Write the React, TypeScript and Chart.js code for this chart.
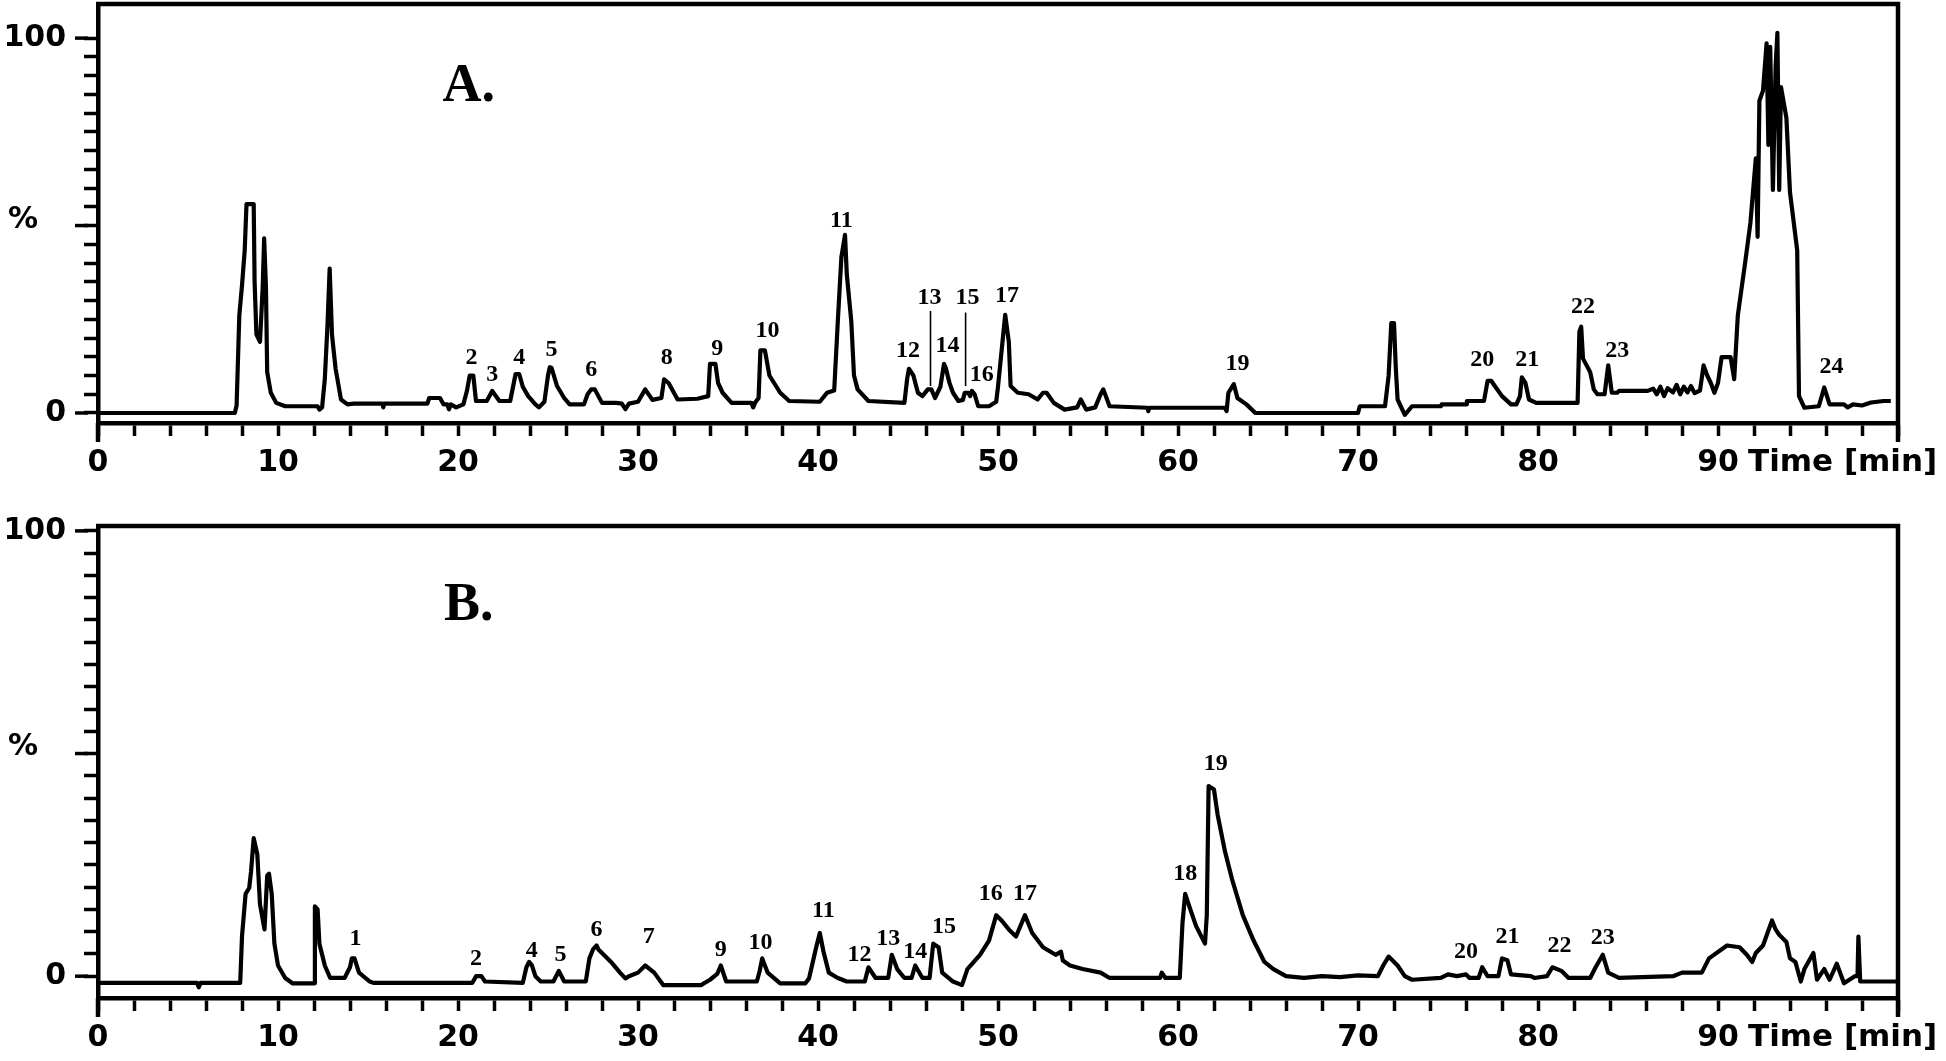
import React, { useEffect, useRef } from 'react';
import { Chart, registerables } from 'chart.js';

Chart.register(...registerables);

// ---- data: [time (min), signal (%)] ----
const traceA: [number, number][] = [
  [0, 0], [7.6, 0], [7.7, 2], [7.85, 26], [8.0, 34], [8.15, 43.4], [8.25, 55.7], [8.65, 55.7], [8.7, 35], [8.8, 21],
  [9.0, 19], [9.15, 33.5], [9.23, 46.6], [9.33, 33.5], [9.4, 10.9], [9.6, 5.4], [9.9, 2.7], [10.4, 1.8], [12.2, 1.8],
  [12.3, 0.9], [12.45, 1.5], [12.6, 9], [12.75, 23.5], [12.87, 38.5], [13.0, 20.8], [13.2, 11.8], [13.5, 3.6],
  [13.86, 2.3], [14.2, 2.5], [15.8, 2.5], [15.85, 1.5], [15.9, 2.5], [18.3, 2.5], [18.4, 4], [19.0, 4], [19.2, 2.3],
  [19.4, 2.3], [19.5, 1], [19.6, 2.3], [19.9, 1.5], [20.3, 2.3], [20.5, 6], [20.65, 10], [20.85, 10], [21.0, 3.2],
  [21.6, 3.2], [21.9, 5.9], [22.3, 3.2], [22.9, 3.2], [23.1, 8], [23.2, 10.4], [23.4, 10.4], [23.6, 7], [23.9, 4.5],
  [24.3, 2.3], [24.5, 1.5], [24.8, 3], [25.0, 10], [25.1, 12.2], [25.2, 12], [25.5, 7.2], [25.9, 4], [26.2, 2.3],
  [27.0, 2.3], [27.2, 5], [27.4, 6.3], [27.6, 6.3], [28.0, 2.7], [28.8, 2.7], [29.1, 2.5], [29.3, 1], [29.5, 2.5],
  [30.0, 3], [30.4, 6.3], [30.8, 3.5], [31.3, 4], [31.45, 9], [31.7, 8], [32.2, 3.6], [33.3, 3.8], [33.9, 4.5],
  [34.0, 13.1], [34.3, 13.1], [34.45, 8], [34.7, 5.4], [35.2, 2.7], [36.3, 2.7], [36.4, 1.5], [36.5, 2.7], [36.7, 4],
  [36.8, 16.7], [37.05, 16.7], [37.3, 10], [37.9, 5.4], [38.4, 3.2], [40.1, 3], [40.5, 5.4], [40.9, 6], [41.1, 24.4],
  [41.3, 41.6], [41.5, 47.5], [41.6, 37], [41.85, 24.4], [42.0, 10], [42.2, 6.3], [42.8, 3.2], [44.8, 2.7], [44.95, 9],
  [45.05, 11.8], [45.3, 10], [45.55, 5.4], [45.8, 4.5], [46.1, 6.3], [46.3, 6.3], [46.5, 4], [46.8, 7], [47.0, 13.1],
  [47.1, 12], [47.3, 8.1], [47.5, 5.4], [47.8, 3.2], [48.05, 3.5], [48.15, 5.4], [48.35, 5.4], [48.45, 4.5],
  [48.55, 5.9], [48.7, 5], [48.9, 1.8], [49.5, 1.8], [49.9, 3], [50.0, 7], [50.25, 19], [50.4, 26.2], [50.6, 19],
  [50.7, 7.2], [51.1, 5.4], [51.7, 5], [52.2, 3.6], [52.5, 5.4], [52.7, 5.4], [53.1, 2.7], [53.7, 0.9], [54.4, 1.5],
  [54.6, 3.6], [54.9, 0.9], [55.4, 1.5], [55.7, 5], [55.85, 6.3], [56.2, 1.8], [58.3, 1.4], [58.35, 0.5], [58.4, 1.4],
  [62.6, 1.4], [62.7, 0.5], [62.8, 5.4], [63.1, 7.7], [63.3, 4], [63.8, 2.3], [64.3, 0], [70.0, 0], [70.1, 1.8],
  [71.5, 1.8], [71.7, 9.9], [71.85, 24], [72.0, 24], [72.1, 12], [72.2, 3.6], [72.6, -0.5], [73.0, 1.8], [74.6, 1.8],
  [74.65, 2.3], [76.0, 2.3], [76.05, 3.2], [77.0, 3.2], [77.2, 8.6], [77.4, 8.6], [77.6, 7.2], [78.0, 4.5], [78.5, 2.3],
  [78.8, 2.3], [79.0, 4.5], [79.1, 9.5], [79.3, 8], [79.5, 3.6], [79.9, 2.7], [82.2, 2.7], [82.3, 21.7], [82.4, 23],
  [82.5, 14.5], [82.9, 10.9], [83.1, 6.3], [83.3, 5], [83.7, 5], [83.9, 12.7], [84.1, 5.4], [84.4, 5.4], [84.5, 5.9],
  [86.1, 5.9], [86.4, 6.5], [86.6, 5], [86.8, 7], [87.0, 4.5], [87.2, 6.6], [87.5, 5.5], [87.7, 7.5], [87.9, 5],
  [88.1, 7], [88.3, 5.5], [88.5, 7.2], [88.7, 5.3], [89.0, 6], [89.2, 12.7], [89.4, 10], [89.6, 8], [89.8, 5.4],
  [90.0, 8], [90.2, 14.9], [90.7, 14.9], [90.9, 9], [91.1, 26], [91.5, 39.8], [91.8, 50.7], [92.1, 67.9], [92.2, 47],
  [92.3, 83.3], [92.5, 86], [92.7, 98.6], [92.8, 71.5], [92.9, 97.7], [93.05, 59.5], [93.2, 92.3], [93.3, 101.4],
  [93.4, 59.5], [93.5, 86.9], [93.8, 78.7], [94.0, 58.8], [94.4, 43.4], [94.5, 4.5], [94.8, 1.4], [95.6, 1.8],
  [95.9, 6.8], [96.2, 2.3], [97.0, 2.3], [97.2, 1.5], [97.5, 2.3], [98.0, 2], [98.5, 2.8], [99.2, 3.2], [99.6, 3.2],
];

const traceB: [number, number][] = [
  [0, -1.5], [5.5, -1.5], [5.6, -2.5], [5.7, -1.5], [7.9, -1.5], [8.0, 8.9], [8.2, 18.5], [8.4, 19.8], [8.5, 23.4],
  [8.65, 31], [8.85, 27.4], [9.0, 16.1], [9.25, 10.5], [9.4, 22.6], [9.5, 23], [9.65, 18.5], [9.8, 7.3], [10.0, 2.4],
  [10.4, -0.4], [10.8, -1.6], [12.0, -1.6], [12.05, 15.7], [12.2, 15], [12.3, 7.3], [12.6, 2.4], [12.9, -0.4],
  [13.7, -0.4], [14.0, 2], [14.1, 4], [14.25, 4], [14.5, 0.8], [15.1, -1.2], [15.3, -1.5], [20.8, -1.5], [21.0, 0],
  [21.3, 0], [21.5, -1.2], [23.6, -1.5], [23.8, 2], [23.95, 3.2], [24.1, 2.5], [24.3, 0], [24.6, -1.2], [25.3, -1.2],
  [25.6, 1.2], [25.9, -1.2], [27.1, -1.2], [27.3, 4], [27.5, 6], [27.7, 6.9], [27.8, 6], [28.0, 5.2], [28.5, 3.2],
  [29.0, 0.8], [29.3, -0.5], [29.5, 0], [30.0, 0.8], [30.4, 2.4], [30.9, 0.8], [31.4, -2], [33.5, -2], [34.0, -0.8],
  [34.4, 0.5], [34.6, 2.4], [34.9, -1.2], [36.6, -1.2], [36.75, 1], [36.9, 4], [37.2, 0.8], [37.9, -1.6], [39.3, -1.6],
  [39.5, -0.5], [39.9, 6.5], [40.1, 9.7], [40.3, 5.6], [40.6, 0.8], [41.1, -0.4], [41.6, -1.2], [42.6, -1.2], [42.8, 2],
  [43.2, -0.4], [43.9, -0.4], [44.1, 4.8], [44.4, 1.6], [44.8, -0.4], [45.2, -0.4], [45.4, 2.4], [45.8, -0.4],
  [46.2, -0.4], [46.4, 7.3], [46.7, 6.5], [46.9, 0.8], [47.5, -1.2], [48.0, -2], [48.3, 1.6], [49.0, 4.8], [49.5, 8],
  [49.9, 13.7], [50.2, 12.5], [50.6, 10.5], [51.0, 8.9], [51.5, 13.7], [51.9, 9.7], [52.5, 6.5], [53.2, 4.8],
  [53.5, 5.5], [53.6, 3.5], [54.0, 2.4], [54.7, 1.6], [55.7, 0.8], [56.2, -0.4], [59.0, -0.4], [59.1, 0.8], [59.3, -0.4],
  [60.1, -0.4], [60.25, 12], [60.4, 18.5], [60.6, 16], [61.0, 11.3], [61.5, 7.3], [61.6, 13.7], [61.7, 42.7],
  [62.0, 41.9], [62.2, 36.3], [62.6, 28.2], [63.0, 21.8], [63.6, 13.7], [64.2, 8], [64.8, 3.2], [65.3, 1.6], [66.0, 0],
  [67.0, -0.4], [68.0, 0], [69.0, -0.2], [70.0, 0.2], [71.1, 0], [71.4, 2.4], [71.7, 4.4], [72.2, 2.4], [72.6, 0],
  [73.0, -0.8], [74.6, -0.4], [75.0, 0.4], [75.5, 0], [76.0, 0.4], [76.2, -0.4], [76.7, -0.4], [76.9, 2], [77.2, 0],
  [77.8, 0], [78.0, 4], [78.3, 3.6], [78.5, 0.4], [79.6, 0], [79.8, -0.4], [80.5, 0], [80.8, 2], [81.3, 1.2],
  [81.7, -0.4], [82.9, -0.4], [83.2, 2], [83.6, 4.8], [83.9, 0.8], [84.5, -0.4], [87.5, 0], [88.0, 0.8], [89.1, 0.8],
  [89.5, 4], [90.5, 6.9], [91.2, 6.5], [91.6, 4.8], [91.9, 3.2], [92.1, 5.2], [92.5, 6.9], [93.0, 12.5], [93.2, 10.5],
  [93.4, 9.3], [93.8, 7.7], [94.0, 4], [94.3, 3.2], [94.6, -1.2], [94.8, 1.6], [95.3, 5.2], [95.5, -0.8], [95.9, 1.6],
  [96.2, -0.8], [96.6, 2.8], [97.0, -1.6], [97.6, 0], [97.75, 0], [97.8, 8.9], [97.9, -1.2], [98.4, -1.2], [99.9, -1.2],
];

// peak labels: [text, time, signal]
const peakLabelsA: [string, number, number][] = [
  ['2', 20.75, 14.8], ['3', 21.9, 10.2], ['4', 23.4, 14.8], ['5', 25.2, 16.8], ['6', 27.4, 11.5], ['8', 31.6, 14.8],
  ['9', 34.4, 17.2], ['10', 37.2, 22.0], ['11', 41.3, 51.2], ['12', 45.0, 16.5], ['13', 46.2, 30.8], ['14', 47.2, 18.0],
  ['15', 48.3, 30.7], ['16', 49.1, 10.2], ['17', 50.5, 31.2], ['19', 63.3, 13.0], ['20', 76.9, 14.1], ['21', 79.4, 14.1],
  ['22', 82.5, 28.4], ['23', 84.4, 16.5], ['24', 96.3, 12.2],
];
const peakLabelsB: [string, number, number][] = [
  ['1', 14.3, 8.3], ['2', 21.0, 3.8], ['4', 24.1, 5.7], ['5', 25.7, 4.9], ['6', 27.7, 10.5], ['7', 30.6, 8.8],
  ['9', 34.6, 6.0], ['10', 36.8, 7.4], ['11', 40.3, 14.6], ['12', 42.3, 4.9], ['13', 43.9, 8.3], ['14', 45.4, 5.5],
  ['15', 47.0, 11.1], ['16', 49.6, 18.4], ['17', 51.5, 18.4], ['18', 60.4, 23.0], ['19', 62.1, 47.7], ['20', 76.0, 5.5],
  ['21', 78.3, 8.8], ['22', 81.2, 6.9], ['23', 83.6, 8.6],
];
// leader lines in A: [time, from, to]
const leadersA: [number, number, number][] = [[46.25, 7.2, 27.2], [48.2, 7.2, 26.8]];

const panelLetterA: [string, number, number] = ['A.', 20.6, 86.9];
const panelLetterB: [string, number, number] = ['B.', 20.6, 83.1];

const xLabelValues = [0, 10, 20, 30, 40, 50, 60, 70, 80, 90];
const xTickStep = 2;
const yLabelValues = [0, 100];
const yMajorTicks = [0, 50, 100];
const yTickStep = 5;

const TICK_FONT = { family: "'DejaVu Sans', sans-serif", size: 30, weight: 'bold' as const };

type PanelCfg = {
  trace: [number, number][];
  labels: [string, number, number][];
  leaders: [number, number, number][];
  letter: [string, number, number];
  yMin: number;
  yMax: number;
  padTop: number;
  height: number;
  canvasTop: number;
  xAxisHeight: number;
};

function makeDecor(cfg: PanelCfg) {
  return {
    id: 'decor',
    afterDraw(chart: any) {
      const { ctx, chartArea } = chart;
      const { left, right, top, bottom } = chartArea;
      const xs = chart.scales.x;
      const ys = chart.scales.y;
      ctx.save();
      ctx.strokeStyle = '#000';
      ctx.fillStyle = '#000';
      ctx.lineWidth = 4.5;
      ctx.beginPath();
      ctx.moveTo(left - 2, top);
      ctx.lineTo(right, top);
      ctx.lineTo(right, bottom + 19);
      ctx.stroke();
      ctx.beginPath();
      ctx.moveTo(left, bottom);
      ctx.lineTo(left, bottom + 19);
      ctx.stroke();
      ctx.lineWidth = 3.5;
      for (const v of yMajorTicks) {
        const py = ys.getPixelForValue(v);
        ctx.beginPath();
        ctx.moveTo(left - 23, py);
        ctx.lineTo(left - 10, py);
        ctx.stroke();
      }
      ctx.font = "bold 30px 'DejaVu Sans'";
      ctx.textBaseline = 'middle';
      ctx.textAlign = 'center';
      ctx.fillText('%', 23, ys.getPixelForValue(51.5));
      ctx.textAlign = 'left';
      ctx.font = "bold 31px 'DejaVu Sans'";
      ctx.fillText('Time [min]', xs.getPixelForValue(90) + 30, bottom + 40);
      ctx.textAlign = 'center';
      ctx.font = "bold 54px 'Liberation Serif'";
      ctx.fillText(cfg.letter[0], xs.getPixelForValue(cfg.letter[1]), ys.getPixelForValue(cfg.letter[2]));
      ctx.font = "bold 24px 'Liberation Serif'";
      for (const [t, x, y] of cfg.labels) {
        ctx.fillText(t, xs.getPixelForValue(x), ys.getPixelForValue(y));
      }
      ctx.restore();
    },
  };
}

function Panel({ cfg }: { cfg: PanelCfg }) {
  const ref = useRef<HTMLCanvasElement>(null);
  useEffect(() => {
    const xTicks: number[] = [];
    for (let v = 0; v <= 100; v += xTickStep) xTicks.push(v);
    const yTicks: number[] = [];
    for (let v = 0; v <= 100; v += yTickStep) yTicks.push(v);
    const zeroPad = (s: any) => {
      s.paddingLeft = 0; s.paddingRight = 0; s.paddingTop = 0; s.paddingBottom = 0;
    };
    const datasets: any[] = [
      {
        data: cfg.trace.map(([x, y]) => ({ x, y })),
        borderColor: '#000',
        borderWidth: 4.2,
        pointRadius: 0,
        tension: 0,
        borderJoinStyle: 'round',
        fill: false,
      },
      ...cfg.leaders.map(([t, a, b]) => ({
        data: [{ x: t, y: a }, { x: t, y: b }],
        borderColor: '#000',
        borderWidth: 1.6,
        pointRadius: 0,
        fill: false,
      })),
    ];
    const chart = new Chart(ref.current as HTMLCanvasElement, {
      type: 'line',
      data: { datasets },
      options: {
        responsive: false,
        animation: false,
        devicePixelRatio: 1,
        events: [],
        layout: { padding: { top: cfg.padTop, right: 48, left: 0, bottom: 0 } },
        plugins: { legend: { display: false }, tooltip: { enabled: false }, title: { display: false } },
        scales: {
          x: {
            type: 'linear',
            min: 0,
            max: 100,
            afterBuildTicks: (s: any) => { s.ticks = xTicks.map((value) => ({ value })); },
            afterFit: (s: any) => { s.height = cfg.xAxisHeight; zeroPad(s); },
            ticks: {
              autoSkip: false,
              maxRotation: 0,
              minRotation: 0,
              padding: 9,
              color: '#000',
              font: TICK_FONT,
              callback: (v: any) => (xLabelValues.includes(Number(v)) ? String(v) : ''),
            },
            grid: { drawOnChartArea: false, drawTicks: true, tickLength: 13, tickWidth: 3.5, tickColor: '#000' },
            border: { display: true, color: '#000', width: 4.5 },
          },
          y: {
            type: 'linear',
            min: cfg.yMin,
            max: cfg.yMax,
            afterBuildTicks: (s: any) => { s.ticks = yTicks.map((value) => ({ value })); },
            afterFit: (s: any) => { s.width = 98; zeroPad(s); },
            ticks: {
              autoSkip: false,
              padding: 18,
              color: '#000',
              font: TICK_FONT,
              callback: (v: any) => (yLabelValues.includes(Number(v)) ? String(v) : ''),
            },
            grid: { drawOnChartArea: false, drawTicks: true, tickLength: 14, tickWidth: 3.5, tickColor: '#000' },
            border: { display: true, color: '#000', width: 4.5 },
          },
        },
      } as any,
      plugins: [makeDecor(cfg)],
    });
    return () => chart.destroy();
  }, [cfg]);
  return (
    <canvas
      ref={ref}
      width={1946}
      height={cfg.height}
      style={{ position: 'absolute', left: 0, top: cfg.canvasTop, width: 1946, height: cfg.height }}
    />
  );
}

const cfgA: PanelCfg = {
  trace: traceA, labels: peakLabelsA, leaders: leadersA, letter: panelLetterA,
  yMin: -2.67, yMax: 109.1, padTop: 4, height: 500, canvasTop: 0, xAxisHeight: 77,
};
const cfgB: PanelCfg = {
  trace: traceB, labels: peakLabelsB, leaders: [], letter: panelLetterB,
  yMin: -4.9, yMax: 101.1, padTop: 26, height: 561, canvasTop: 500, xAxisHeight: 63,
};

export default function App() {
  return (
    <div style={{ position: 'absolute', left: 0, top: 0, width: 1946, height: 1061, background: '#fff', overflow: 'hidden' }}>
      <Panel cfg={cfgA} />
      <Panel cfg={cfgB} />
    </div>
  );
}
